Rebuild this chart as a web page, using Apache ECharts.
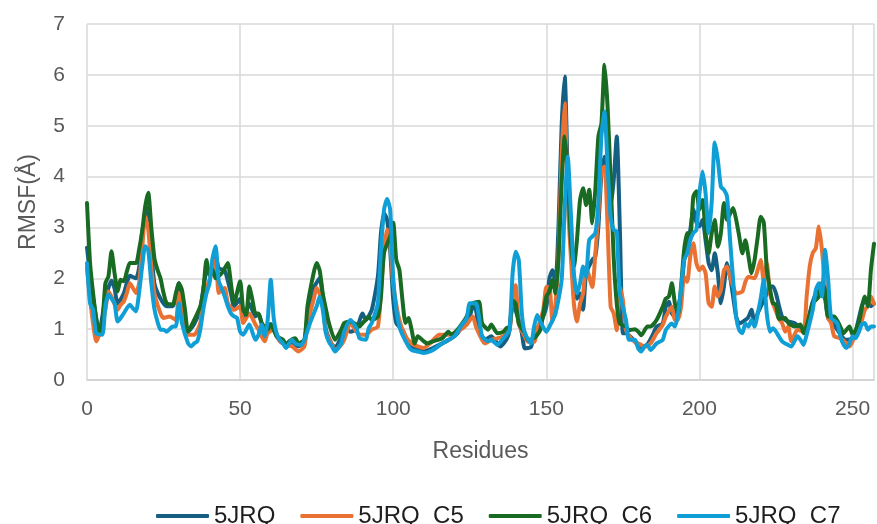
<!DOCTYPE html>
<html>
<head>
<meta charset="utf-8">
<script src="https://cdn.jsdelivr.net/npm/echarts@6/dist/echarts.min.js"></script>
<style>
  html, body { margin: 0; padding: 0; background: #ffffff; }
  #chart { width: 877px; height: 524px; }
</style>
</head>
<body>
<div id="chart"></div>
<script>
// RMSF per residue, [residue, RMSF (Å)]
const rmsf5JRQ = [[0,2.6],[2,1.6],[4,0.95],[6,1.6],[8,1.95],[9,1.8],[10,1.5],[12,1.7],[14,2.05],[16,2.0],[17,2.2],[18,2.9],[20,3.4],[21,2.6],[22,1.9],[24,1.6],[26,1.45],[28,1.45],[30,1.9],[31,1.5],[33,0.95],[35,1.1],[37,1.4],[39,2.1],[40,2.1],[42,2.45],[43,2.2],[45,2.15],[47,1.7],[48,1.45],[50,1.6],[51,1.2],[53,1.5],[55,1.25],[56,1.3],[58,0.95],[60,1.1],[62,0.85],[64,0.72],[67,0.72],[69,0.66],[71,0.75],[72,1.25],[74,1.8],[76,2.0],[77,1.6],[78,1.0],[80,0.7],[81,0.65],[83,0.85],[84,1.05],[86,0.95],[88,1.0],[90,1.31],[91,1.18],[93,1.38],[95,2.04],[96,2.89],[97,3.28],[98,3.15],[99,2.56],[100,1.58],[101,1.12],[103,0.99],[105,0.72],[107,0.63],[110,0.56],[113,0.63],[116,0.72],[119,0.82],[121,0.92],[123,1.12],[125,1.25],[126,1.45],[127,1.38],[128,0.99],[130,0.79],[132,0.86],[134,0.72],[135,0.66],[137,0.8],[138,0.98],[139,1.5],[141,1.18],[142,0.92],[143,0.62],[145,0.65],[146,0.92],[148,1.11],[150,1.44],[151,2.0],[152,2.16],[153,1.9],[154,3.08],[155,5.0],[156,5.97],[157,4.0],[158,2.7],[159,1.9],[160,1.6],[161,1.7],[162,1.38],[163,2.1],[165,2.36],[166,2.43],[167,3.02],[168,4.07],[169,4.39],[170,3.93],[171,3.41],[172,3.93],[173,4.79],[174,3.0],[175,0.92],[176,0.92],[178,0.82],[180,0.68],[181,0.65],[183,0.7],[185,0.92],[186,1.05],[188,1.11],[189,1.44],[190,1.54],[191,1.31],[192,1.24],[194,1.7],[195,2.36],[196,2.62],[197,2.95],[198,3.35],[199,3.1],[200,3.02],[201,3.15],[202,2.75],[203,2.3],[204,2.16],[205,2.49],[206,2.1],[207,1.51],[208,1.84],[209,2.3],[210,2.03],[211,1.64],[212,1.24],[213,1.11],[215,1.18],[216,1.24],[217,1.38],[218,1.11],[219,1.31],[220,1.44],[222,1.7],[223,1.84],[224,1.84],[225,1.7],[226,1.45],[227,1.24],[228,1.18],[229,1.15],[231,1.12],[233,1.02],[234,0.95],[236,1.31],[237,1.54],[239,1.84],[240,1.9],[242,1.22],[243,1.15],[245,0.99],[247,0.82],[248,0.79],[250,0.82],[251,0.95],[253,1.45],[254,1.58],[256,1.45],[257,1.5]];

const rmsfC5 = [[0,2.2],[1,1.6],[2,1.1],[3,0.76],[4,0.89],[6,1.38],[7,1.74],[8,1.64],[10,1.38],[11,1.48],[12,1.54],[13,1.71],[14,1.9],[15,1.81],[16,1.71],[17,1.9],[18,2.56],[19,3.22],[20,2.96],[21,2.23],[22,1.71],[24,1.31],[25,1.22],[27,1.25],[29,1.18],[30,1.71],[31,1.31],[33,0.89],[35,0.89],[37,1.12],[38,1.64],[40,1.97],[42,2.36],[43,1.71],[44,1.77],[45,1.81],[46,1.51],[48,1.38],[50,1.45],[51,1.12],[53,1.31],[55,1.09],[56,0.99],[58,0.76],[59,0.92],[61,0.99],[63,0.76],[65,0.69],[67,0.66],[69,0.56],[71,0.66],[72,1.12],[74,1.58],[75,1.81],[77,1.51],[78,0.95],[80,0.69],[81,0.59],[83,0.69],[84,0.79],[86,1.12],[88,0.95],[89,0.89],[91,0.89],[93,0.99],[95,1.05],[96,1.77],[97,2.56],[98,2.96],[99,2.69],[100,1.9],[102,1.18],[104,0.86],[106,0.72],[108,0.66],[110,0.63],[112,0.72],[115,0.89],[118,0.89],[120,0.92],[122,0.99],[124,1.09],[126,1.25],[127,1.05],[129,0.79],[130,0.72],[132,0.79],[134,0.82],[136,0.86],[137,0.92],[138,0.98],[139,1.6],[140,1.87],[141,1.11],[143,0.85],[144,0.75],[146,0.75],[147,0.98],[149,1.38],[150,1.83],[151,1.83],[152,1.15],[153,1.5],[154,2.5],[155,4.4],[156,5.44],[157,3.5],[158,2.43],[159,1.5],[160,1.15],[161,1.5],[162,1.7],[163,2.23],[165,1.83],[166,2.49],[167,3.28],[168,4.13],[169,4.2],[170,3.02],[171,1.44],[172,1.31],[173,0.98],[174,1.83],[175,1.57],[176,0.98],[178,0.79],[180,0.72],[181,0.69],[182,0.65],[184,0.72],[186,0.92],[188,1.08],[189,1.24],[191,1.44],[192,1.18],[193,1.18],[194,1.44],[195,2.03],[196,1.93],[197,2.43],[198,2.69],[199,2.3],[200,2.16],[201,2.23],[202,2.1],[203,1.51],[204,1.44],[205,1.84],[206,1.64],[207,1.77],[208,2.16],[209,2.23],[210,2.03],[211,1.84],[212,1.7],[214,1.74],[215,1.93],[216,2.03],[218,2.0],[219,2.16],[220,2.36],[221,1.93],[222,2.3],[223,1.71],[224,1.5],[225,1.35],[226,1.2],[227,1.12],[228,0.95],[229,1.05],[230,0.76],[232,0.99],[234,0.95],[235,1.64],[236,2.23],[237,2.5],[238,2.59],[239,3.02],[240,2.56],[241,1.84],[242,1.22],[243,1.12],[244,0.86],[246,0.82],[248,0.72],[249,0.66],[250,0.76],[251,0.92],[252,0.95],[254,1.38],[255,1.45],[256,1.64],[257,1.5]];

const rmsfC6 = [[0,3.48],[1,2.3],[2,1.7],[3,1.2],[4,0.92],[5,1.12],[6,1.9],[7,2.04],[8,2.53],[9,2.1],[10,1.74],[11,1.97],[12,1.94],[13,2.13],[14,2.3],[16,2.3],[17,2.56],[18,2.92],[19,3.41],[20,3.68],[21,3.0],[22,2.4],[23,2.17],[24,2.0],[25,1.71],[26,1.51],[28,1.48],[29,1.7],[30,1.9],[31,1.77],[32,1.38],[33,0.95],[35,1.18],[37,1.45],[38,1.77],[39,2.36],[40,2.07],[41,2.17],[42,2.0],[44,2.1],[45,2.2],[46,2.3],[47,1.9],[48,1.51],[50,1.94],[51,1.38],[52,1.28],[53,1.84],[54,1.58],[55,1.31],[56,1.31],[57,1.12],[59,0.99],[60,1.09],[62,0.86],[64,0.79],[65,0.69],[66,0.76],[68,0.82],[69,0.72],[71,0.79],[72,1.45],[74,2.1],[75,2.3],[76,2.15],[77,1.7],[78,1.4],[79,1.12],[81,0.79],[83,0.99],[84,1.12],[86,1.15],[88,1.09],[89,1.05],[90,1.12],[91,1.18],[92,1.25],[93,1.18],[95,1.25],[96,1.64],[97,2.5],[99,2.82],[100,3.09],[101,2.36],[102,2.17],[103,1.58],[104,1.12],[105,1.22],[106,0.99],[107,0.72],[108,0.86],[110,0.76],[111,0.72],[113,0.76],[116,0.82],[118,0.95],[119,0.89],[121,0.99],[123,1.15],[124,1.25],[126,1.51],[128,1.54],[129,1.12],[131,0.99],[132,1.09],[134,0.92],[136,0.95],[137,1.02],[138,1.05],[139,1.57],[140,1.5],[141,1.11],[143,0.92],[144,0.79],[146,0.82],[148,0.98],[149,1.31],[150,1.64],[151,1.74],[152,1.97],[153,1.7],[154,2.43],[155,3.87],[156,4.79],[157,4.07],[158,2.75],[159,2.23],[160,2.75],[161,3.54],[162,3.77],[163,3.44],[164,3.74],[165,3.08],[166,3.74],[167,4.79],[168,5.05],[169,6.2],[170,5.38],[171,3.93],[172,2.4],[173,1.5],[174,1.11],[176,1.05],[177,0.98],[179,1.0],[180,0.95],[181,0.88],[183,1.05],[184,1.05],[186,1.18],[188,1.44],[189,1.6],[190,1.64],[191,1.9],[192,1.5],[193,1.31],[194,1.84],[195,2.56],[196,2.89],[197,2.82],[198,3.61],[199,3.71],[200,3.35],[201,3.54],[202,2.89],[203,2.49],[204,2.89],[205,3.15],[206,2.62],[207,2.89],[208,3.48],[209,3.15],[211,3.38],[212,3.15],[213,2.82],[214,2.49],[215,2.75],[216,2.43],[217,2.1],[218,2.36],[219,2.8],[220,3.21],[221,3.1],[222,2.17],[223,1.8],[224,1.51],[225,1.48],[226,1.2],[228,1.22],[229,1.12],[231,1.05],[233,1.09],[234,0.92],[236,1.28],[237,1.51],[239,1.64],[240,1.9],[241,1.77],[242,1.25],[244,1.25],[246,1.05],[247,0.92],[249,1.05],[250,0.89],[252,1.12],[254,1.64],[255,1.45],[256,2.17],[257,2.68]];

const rmsfC7 = [[0,2.3],[1,1.51],[2,1.38],[3,0.92],[5,0.89],[6,1.45],[7,1.68],[8,1.6],[9,1.51],[10,1.15],[11,1.22],[12,1.31],[14,1.48],[15,1.41],[16,1.35],[17,1.71],[18,2.23],[19,2.63],[20,2.55],[21,1.9],[22,1.4],[23,1.15],[24,0.99],[25,0.99],[26,0.95],[28,1.05],[29,1.05],[30,1.51],[31,1.12],[33,0.72],[34,0.66],[35,0.72],[36,0.76],[37,0.99],[38,1.4],[39,1.7],[40,1.9],[41,2.4],[42,2.63],[43,1.95],[44,1.8],[45,1.64],[46,1.45],[47,1.31],[48,1.25],[49,1.22],[50,0.95],[51,0.89],[53,1.09],[55,0.79],[56,0.89],[57,1.09],[58,0.86],[59,1.18],[60,1.97],[61,1.2],[62,0.9],[63,0.79],[64,0.72],[65,0.63],[66,0.72],[67,0.79],[68,0.72],[70,0.69],[71,0.79],[73,1.15],[75,1.45],[76,1.64],[77,1.38],[78,0.92],[79,0.75],[80,0.66],[81,0.56],[83,0.72],[84,0.95],[86,1.18],[88,1.02],[89,0.82],[91,0.79],[92,1.02],[93,1.12],[94,1.3],[95,1.51],[96,2.56],[97,3.35],[98,3.56],[99,3.35],[100,2.0],[101,1.38],[102,1.05],[103,0.89],[105,0.66],[106,0.59],[108,0.56],[110,0.53],[112,0.56],[114,0.63],[116,0.72],[118,0.79],[120,0.86],[122,1.05],[124,1.22],[125,1.51],[127,1.51],[128,1.25],[129,0.86],[131,0.76],[132,0.79],[134,0.69],[135,0.75],[136,0.82],[137,0.89],[138,0.98],[139,2.1],[140,2.52],[141,2.36],[142,1.31],[143,0.92],[145,0.72],[146,1.05],[147,1.28],[148,1.15],[150,0.95],[151,1.05],[153,1.31],[155,1.97],[156,3.41],[157,4.39],[158,3.28],[159,2.1],[160,1.7],[161,1.9],[162,2.23],[163,2.03],[164,2.75],[166,2.89],[167,3.5],[168,4.8],[169,5.28],[170,4.2],[171,3.2],[172,2.95],[173,2.92],[174,1.7],[176,1.18],[177,0.79],[179,0.79],[180,0.62],[181,0.56],[182,0.65],[183,0.69],[184,0.59],[186,0.72],[188,0.79],[189,0.98],[191,1.11],[192,1.05],[193,1.3],[194,1.8],[195,2.36],[196,2.49],[197,2.75],[198,2.89],[199,2.95],[200,3.67],[201,4.1],[202,3.67],[203,2.89],[204,3.5],[205,4.67],[206,4.33],[207,3.8],[208,3.74],[209,3.61],[210,2.75],[211,1.97],[212,1.24],[213,0.98],[214,0.92],[215,1.11],[216,1.05],[217,1.18],[218,1.05],[219,1.3],[220,1.6],[221,1.97],[222,1.3],[223,0.95],[224,1.02],[225,0.95],[226,0.85],[227,0.76],[228,0.72],[230,0.66],[232,0.86],[233,0.79],[234,0.69],[235,0.89],[237,1.38],[238,1.77],[239,1.9],[240,1.64],[241,2.56],[242,2.0],[243,1.22],[245,1.12],[246,0.86],[247,0.7],[248,0.63],[249,0.72],[250,0.86],[251,0.82],[253,1.09],[254,1.12],[255,0.99],[256,1.05],[257,1.05]];

const seriesNames = ['5JRQ', '5JRQ_C5', '5JRQ_C6', '5JRQ_C7'];
const seriesData = [rmsf5JRQ, rmsfC5, rmsfC6, rmsfC7];
const seriesColors = ['#156082', '#E97132', '#196B24', '#0F9ED5'];

const xTickStep = 50;
const xMax = 257;
const yMax = 7;

const FONT = '"Liberation Sans", Arial, sans-serif';
const chart = echarts.init(document.getElementById('chart'), null, { renderer: 'canvas' });

chart.setOption({
  backgroundColor: '#ffffff',
  animation: false,
  textStyle: { fontFamily: FONT },
  grid: { left: 87, top: 24, width: 792, height: 356, containLabel: false },
  legend: {
    left: 151,
    top: 499,
    itemWidth: 53,
    itemHeight: 4,
    itemGap: 25,
    icon: 'roundRect',
    textStyle: { fontFamily: FONT, fontSize: 24, color: '#1e1e1e' },
    data: seriesNames
  },
  xAxis: {
    type: 'value',
    min: 0,
    max: xMax,
    interval: xTickStep,
    name: 'Residues',
    nameLocation: 'middle',
    nameGap: 60,
    nameTextStyle: { fontFamily: FONT, fontSize: 23, color: '#595959' },
    axisLine: { show: true, lineStyle: { color: '#d0d0d0', width: 1.5 } },
    axisTick: { show: false },
    axisLabel: {
      margin: 19,
      fontFamily: FONT,
      fontSize: 21,
      color: '#595959',
      formatter: v => (v % xTickStep === 0 ? String(v) : '')
    },
    splitLine: { show: true, lineStyle: { color: '#d9d9d9', width: 1.5 } }
  },
  yAxis: {
    type: 'value',
    min: 0,
    max: yMax,
    interval: 1,
    name: 'RMSF(Å)',
    nameLocation: 'middle',
    nameGap: 47,
    nameTextStyle: { fontFamily: FONT, fontSize: 23, color: '#595959' },
    axisLine: { show: false },
    axisTick: { show: false },
    axisLabel: { margin: 22, fontFamily: FONT, fontSize: 21, color: '#595959' },
    splitLine: { show: true, lineStyle: { color: '#d9d9d9', width: 1.5 } }
  },
  series: seriesNames.map((name, i) => ({
    name,
    type: 'line',
    data: seriesData[i],
    showSymbol: false,
    symbol: 'none',
    smooth: 0.2,
    color: seriesColors[i],
    lineStyle: { color: seriesColors[i], width: 4, cap: 'round', join: 'round' },
    z: 2 + i
  }))
});
</script>
</body>
</html>
